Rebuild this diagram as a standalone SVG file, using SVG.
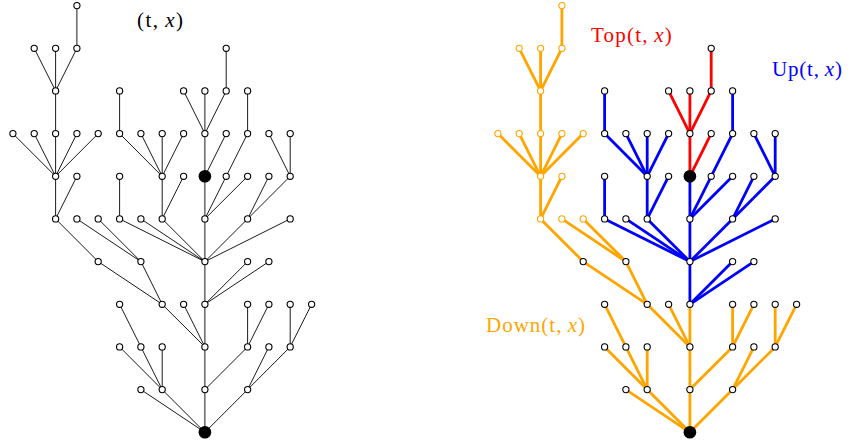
<svg xmlns="http://www.w3.org/2000/svg" width="849" height="445" viewBox="0 0 849 445">
<style>
.e{stroke:#000;stroke-width:0.9;fill:none}
.o{stroke:#FFA500;stroke-width:2.8;fill:none}
.b{stroke:#0000FF;stroke-width:2.8;fill:none}
.r{stroke:#FF0000;stroke-width:2.8;fill:none}
.n{fill:#fff;stroke:#000;stroke-width:1.1}
.no{fill:#fff;stroke:#FFA500;stroke-width:1.1}
.k{fill:#000;stroke:none}
.t{font-family:"Liberation Serif","Times New Roman",serif;font-size:21px}
</style>
<rect width="849" height="445" fill="#fff"/>
<g id="left-connectors">
<line class="e" x1="76.9" y1="5.6" x2="76.9" y2="48.3"/>
<line class="e" x1="34.2" y1="48.3" x2="55.6" y2="90.9"/>
<line class="e" x1="55.6" y1="48.3" x2="55.6" y2="90.9"/>
<line class="e" x1="76.9" y1="48.3" x2="55.6" y2="90.9"/>
<line class="e" x1="226.2" y1="48.3" x2="226.2" y2="90.9"/>
<line class="e" x1="55.6" y1="90.9" x2="55.6" y2="133.6"/>
<line class="e" x1="119.6" y1="90.9" x2="119.6" y2="133.6"/>
<line class="e" x1="183.6" y1="90.9" x2="204.9" y2="133.6"/>
<line class="e" x1="204.9" y1="90.9" x2="204.9" y2="133.6"/>
<line class="e" x1="226.2" y1="90.9" x2="204.9" y2="133.6"/>
<line class="e" x1="247.6" y1="90.9" x2="247.6" y2="133.6"/>
<line class="e" x1="12.9" y1="133.6" x2="55.6" y2="176.3"/>
<line class="e" x1="34.2" y1="133.6" x2="55.6" y2="176.3"/>
<line class="e" x1="55.6" y1="133.6" x2="55.6" y2="176.3"/>
<line class="e" x1="76.9" y1="133.6" x2="55.6" y2="176.3"/>
<line class="e" x1="98.2" y1="133.6" x2="55.6" y2="176.3"/>
<line class="e" x1="119.6" y1="133.6" x2="162.2" y2="176.3"/>
<line class="e" x1="140.9" y1="133.6" x2="162.2" y2="176.3"/>
<line class="e" x1="162.2" y1="133.6" x2="162.2" y2="176.3"/>
<line class="e" x1="183.6" y1="133.6" x2="162.2" y2="176.3"/>
<line class="e" x1="204.9" y1="133.6" x2="204.9" y2="176.3"/>
<line class="e" x1="226.2" y1="133.6" x2="204.9" y2="176.3"/>
<line class="e" x1="247.6" y1="133.6" x2="226.2" y2="176.3"/>
<line class="e" x1="268.9" y1="133.6" x2="290.2" y2="176.3"/>
<line class="e" x1="290.2" y1="133.6" x2="290.2" y2="176.3"/>
<line class="e" x1="55.6" y1="176.3" x2="55.6" y2="218.9"/>
<line class="e" x1="76.9" y1="176.3" x2="55.6" y2="218.9"/>
<line class="e" x1="119.6" y1="176.3" x2="119.6" y2="218.9"/>
<line class="e" x1="162.2" y1="176.3" x2="162.2" y2="218.9"/>
<line class="e" x1="183.6" y1="176.3" x2="162.2" y2="218.9"/>
<line class="e" x1="204.9" y1="176.3" x2="204.9" y2="218.9"/>
<line class="e" x1="226.2" y1="176.3" x2="204.9" y2="218.9"/>
<line class="e" x1="247.6" y1="176.3" x2="204.9" y2="218.9"/>
<line class="e" x1="268.9" y1="176.3" x2="247.6" y2="218.9"/>
<line class="e" x1="290.2" y1="176.3" x2="247.6" y2="218.9"/>
<line class="e" x1="55.6" y1="218.9" x2="98.2" y2="261.6"/>
<line class="e" x1="76.9" y1="218.9" x2="140.9" y2="261.6"/>
<line class="e" x1="98.2" y1="218.9" x2="140.9" y2="261.6"/>
<line class="e" x1="119.6" y1="218.9" x2="204.9" y2="261.6"/>
<line class="e" x1="140.9" y1="218.9" x2="204.9" y2="261.6"/>
<line class="e" x1="162.2" y1="218.9" x2="204.9" y2="261.6"/>
<line class="e" x1="204.9" y1="218.9" x2="204.9" y2="261.6"/>
<line class="e" x1="247.6" y1="218.9" x2="204.9" y2="261.6"/>
<line class="e" x1="290.2" y1="218.9" x2="204.9" y2="261.6"/>
<line class="e" x1="98.2" y1="261.6" x2="162.2" y2="304.3"/>
<line class="e" x1="140.9" y1="261.6" x2="162.2" y2="304.3"/>
<line class="e" x1="204.9" y1="261.6" x2="204.9" y2="304.3"/>
<line class="e" x1="247.6" y1="261.6" x2="204.9" y2="304.3"/>
<line class="e" x1="268.9" y1="261.6" x2="204.9" y2="304.3"/>
<line class="e" x1="119.6" y1="304.3" x2="140.9" y2="346.9"/>
<line class="e" x1="162.2" y1="304.3" x2="204.9" y2="346.9"/>
<line class="e" x1="183.6" y1="304.3" x2="204.9" y2="346.9"/>
<line class="e" x1="204.9" y1="304.3" x2="204.9" y2="346.9"/>
<line class="e" x1="247.6" y1="304.3" x2="247.6" y2="346.9"/>
<line class="e" x1="268.9" y1="304.3" x2="247.6" y2="346.9"/>
<line class="e" x1="290.2" y1="304.3" x2="290.2" y2="346.9"/>
<line class="e" x1="311.6" y1="304.3" x2="290.2" y2="346.9"/>
<line class="e" x1="119.6" y1="346.9" x2="162.2" y2="389.6"/>
<line class="e" x1="140.9" y1="346.9" x2="162.2" y2="389.6"/>
<line class="e" x1="162.2" y1="346.9" x2="162.2" y2="389.6"/>
<line class="e" x1="204.9" y1="346.9" x2="204.9" y2="389.6"/>
<line class="e" x1="247.6" y1="346.9" x2="204.9" y2="389.6"/>
<line class="e" x1="268.9" y1="346.9" x2="247.6" y2="389.6"/>
<line class="e" x1="290.2" y1="346.9" x2="247.6" y2="389.6"/>
<line class="e" x1="140.9" y1="389.6" x2="204.9" y2="432.3"/>
<line class="e" x1="162.2" y1="389.6" x2="204.9" y2="432.3"/>
<line class="e" x1="204.9" y1="389.6" x2="204.9" y2="432.3"/>
<line class="e" x1="247.6" y1="389.6" x2="204.9" y2="432.3"/>
</g>
<g id="left-nodes">
<g id="L3_0"><circle class="n" cx="76.9" cy="5.6" r="3.1"/></g>
<g id="L1_1"><circle class="n" cx="34.2" cy="48.3" r="3.1"/></g>
<g id="L2_1"><circle class="n" cx="55.6" cy="48.3" r="3.1"/></g>
<g id="L3_1"><circle class="n" cx="76.9" cy="48.3" r="3.1"/></g>
<g id="L10_1"><circle class="n" cx="226.2" cy="48.3" r="3.1"/></g>
<g id="L2_2"><circle class="n" cx="55.6" cy="90.9" r="3.1"/></g>
<g id="L5_2"><circle class="n" cx="119.6" cy="90.9" r="3.1"/></g>
<g id="L8_2"><circle class="n" cx="183.6" cy="90.9" r="3.1"/></g>
<g id="L9_2"><circle class="n" cx="204.9" cy="90.9" r="3.1"/></g>
<g id="L10_2"><circle class="n" cx="226.2" cy="90.9" r="3.1"/></g>
<g id="L11_2"><circle class="n" cx="247.6" cy="90.9" r="3.1"/></g>
<g id="L0_3"><circle class="n" cx="12.9" cy="133.6" r="3.1"/></g>
<g id="L1_3"><circle class="n" cx="34.2" cy="133.6" r="3.1"/></g>
<g id="L2_3"><circle class="n" cx="55.6" cy="133.6" r="3.1"/></g>
<g id="L3_3"><circle class="n" cx="76.9" cy="133.6" r="3.1"/></g>
<g id="L4_3"><circle class="n" cx="98.2" cy="133.6" r="3.1"/></g>
<g id="L5_3"><circle class="n" cx="119.6" cy="133.6" r="3.1"/></g>
<g id="L6_3"><circle class="n" cx="140.9" cy="133.6" r="3.1"/></g>
<g id="L7_3"><circle class="n" cx="162.2" cy="133.6" r="3.1"/></g>
<g id="L8_3"><circle class="n" cx="183.6" cy="133.6" r="3.1"/></g>
<g id="L9_3"><circle class="n" cx="204.9" cy="133.6" r="3.1"/></g>
<g id="L10_3"><circle class="n" cx="226.2" cy="133.6" r="3.1"/></g>
<g id="L11_3"><circle class="n" cx="247.6" cy="133.6" r="3.1"/></g>
<g id="L12_3"><circle class="n" cx="268.9" cy="133.6" r="3.1"/></g>
<g id="L13_3"><circle class="n" cx="290.2" cy="133.6" r="3.1"/></g>
<g id="L2_4"><circle class="n" cx="55.6" cy="176.3" r="3.1"/></g>
<g id="L3_4"><circle class="n" cx="76.9" cy="176.3" r="3.1"/></g>
<g id="L5_4"><circle class="n" cx="119.6" cy="176.3" r="3.1"/></g>
<g id="L7_4"><circle class="n" cx="162.2" cy="176.3" r="3.1"/></g>
<g id="L8_4"><circle class="n" cx="183.6" cy="176.3" r="3.1"/></g>
<g id="L9_4"><circle class="k" cx="204.9" cy="176.3" r="6.3"/></g>
<g id="L10_4"><circle class="n" cx="226.2" cy="176.3" r="3.1"/></g>
<g id="L11_4"><circle class="n" cx="247.6" cy="176.3" r="3.1"/></g>
<g id="L12_4"><circle class="n" cx="268.9" cy="176.3" r="3.1"/></g>
<g id="L13_4"><circle class="n" cx="290.2" cy="176.3" r="3.1"/></g>
<g id="L2_5"><circle class="n" cx="55.6" cy="218.9" r="3.1"/></g>
<g id="L3_5"><circle class="n" cx="76.9" cy="218.9" r="3.1"/></g>
<g id="L4_5"><circle class="n" cx="98.2" cy="218.9" r="3.1"/></g>
<g id="L5_5"><circle class="n" cx="119.6" cy="218.9" r="3.1"/></g>
<g id="L6_5"><circle class="n" cx="140.9" cy="218.9" r="3.1"/></g>
<g id="L7_5"><circle class="n" cx="162.2" cy="218.9" r="3.1"/></g>
<g id="L9_5"><circle class="n" cx="204.9" cy="218.9" r="3.1"/></g>
<g id="L11_5"><circle class="n" cx="247.6" cy="218.9" r="3.1"/></g>
<g id="L13_5"><circle class="n" cx="290.2" cy="218.9" r="3.1"/></g>
<g id="L4_6"><circle class="n" cx="98.2" cy="261.6" r="3.1"/></g>
<g id="L6_6"><circle class="n" cx="140.9" cy="261.6" r="3.1"/></g>
<g id="L9_6"><circle class="n" cx="204.9" cy="261.6" r="3.1"/></g>
<g id="L11_6"><circle class="n" cx="247.6" cy="261.6" r="3.1"/></g>
<g id="L12_6"><circle class="n" cx="268.9" cy="261.6" r="3.1"/></g>
<g id="L5_7"><circle class="n" cx="119.6" cy="304.3" r="3.1"/></g>
<g id="L7_7"><circle class="n" cx="162.2" cy="304.3" r="3.1"/></g>
<g id="L8_7"><circle class="n" cx="183.6" cy="304.3" r="3.1"/></g>
<g id="L9_7"><circle class="n" cx="204.9" cy="304.3" r="3.1"/></g>
<g id="L11_7"><circle class="n" cx="247.6" cy="304.3" r="3.1"/></g>
<g id="L12_7"><circle class="n" cx="268.9" cy="304.3" r="3.1"/></g>
<g id="L13_7"><circle class="n" cx="290.2" cy="304.3" r="3.1"/></g>
<g id="L14_7"><circle class="n" cx="311.6" cy="304.3" r="3.1"/></g>
<g id="L5_8"><circle class="n" cx="119.6" cy="346.9" r="3.1"/></g>
<g id="L6_8"><circle class="n" cx="140.9" cy="346.9" r="3.1"/></g>
<g id="L7_8"><circle class="n" cx="162.2" cy="346.9" r="3.1"/></g>
<g id="L9_8"><circle class="n" cx="204.9" cy="346.9" r="3.1"/></g>
<g id="L11_8"><circle class="n" cx="247.6" cy="346.9" r="3.1"/></g>
<g id="L12_8"><circle class="n" cx="268.9" cy="346.9" r="3.1"/></g>
<g id="L13_8"><circle class="n" cx="290.2" cy="346.9" r="3.1"/></g>
<g id="L6_9"><circle class="n" cx="140.9" cy="389.6" r="3.1"/></g>
<g id="L7_9"><circle class="n" cx="162.2" cy="389.6" r="3.1"/></g>
<g id="L9_9"><circle class="n" cx="204.9" cy="389.6" r="3.1"/></g>
<g id="L11_9"><circle class="n" cx="247.6" cy="389.6" r="3.1"/></g>
<g id="L9_10"><circle class="k" cx="204.9" cy="432.3" r="6.3"/></g>
</g>
<g id="right-connectors" transform="translate(485,0)">
<line class="o" x1="76.9" y1="5.6" x2="76.9" y2="48.3"/>
<line class="o" x1="34.2" y1="48.3" x2="55.6" y2="90.9"/>
<line class="o" x1="55.6" y1="48.3" x2="55.6" y2="90.9"/>
<line class="o" x1="76.9" y1="48.3" x2="55.6" y2="90.9"/>
<line class="o" x1="55.6" y1="90.9" x2="55.6" y2="133.6"/>
<line class="o" x1="12.9" y1="133.6" x2="55.6" y2="176.3"/>
<line class="o" x1="34.2" y1="133.6" x2="55.6" y2="176.3"/>
<line class="o" x1="55.6" y1="133.6" x2="55.6" y2="176.3"/>
<line class="o" x1="76.9" y1="133.6" x2="55.6" y2="176.3"/>
<line class="o" x1="98.2" y1="133.6" x2="55.6" y2="176.3"/>
<line class="o" x1="55.6" y1="176.3" x2="55.6" y2="218.9"/>
<line class="o" x1="76.9" y1="176.3" x2="55.6" y2="218.9"/>
<line class="o" x1="55.6" y1="218.9" x2="98.2" y2="261.6"/>
<line class="o" x1="76.9" y1="218.9" x2="140.9" y2="261.6"/>
<line class="o" x1="98.2" y1="218.9" x2="140.9" y2="261.6"/>
<line class="o" x1="98.2" y1="261.6" x2="162.2" y2="304.3"/>
<line class="o" x1="140.9" y1="261.6" x2="162.2" y2="304.3"/>
<line class="o" x1="119.6" y1="304.3" x2="140.9" y2="346.9"/>
<line class="o" x1="162.2" y1="304.3" x2="204.9" y2="346.9"/>
<line class="o" x1="183.6" y1="304.3" x2="204.9" y2="346.9"/>
<line class="o" x1="204.9" y1="304.3" x2="204.9" y2="346.9"/>
<line class="o" x1="247.6" y1="304.3" x2="247.6" y2="346.9"/>
<line class="o" x1="268.9" y1="304.3" x2="247.6" y2="346.9"/>
<line class="o" x1="290.2" y1="304.3" x2="290.2" y2="346.9"/>
<line class="o" x1="311.6" y1="304.3" x2="290.2" y2="346.9"/>
<line class="o" x1="119.6" y1="346.9" x2="162.2" y2="389.6"/>
<line class="o" x1="140.9" y1="346.9" x2="162.2" y2="389.6"/>
<line class="o" x1="162.2" y1="346.9" x2="162.2" y2="389.6"/>
<line class="o" x1="204.9" y1="346.9" x2="204.9" y2="389.6"/>
<line class="o" x1="247.6" y1="346.9" x2="204.9" y2="389.6"/>
<line class="o" x1="268.9" y1="346.9" x2="247.6" y2="389.6"/>
<line class="o" x1="290.2" y1="346.9" x2="247.6" y2="389.6"/>
<line class="o" x1="140.9" y1="389.6" x2="204.9" y2="432.3"/>
<line class="o" x1="162.2" y1="389.6" x2="204.9" y2="432.3"/>
<line class="o" x1="204.9" y1="389.6" x2="204.9" y2="432.3"/>
<line class="o" x1="247.6" y1="389.6" x2="204.9" y2="432.3"/>
<line class="b" x1="119.6" y1="90.9" x2="119.6" y2="133.6"/>
<line class="b" x1="247.6" y1="90.9" x2="247.6" y2="133.6"/>
<line class="b" x1="119.6" y1="133.6" x2="162.2" y2="176.3"/>
<line class="b" x1="140.9" y1="133.6" x2="162.2" y2="176.3"/>
<line class="b" x1="162.2" y1="133.6" x2="162.2" y2="176.3"/>
<line class="b" x1="183.6" y1="133.6" x2="162.2" y2="176.3"/>
<line class="b" x1="247.6" y1="133.6" x2="226.2" y2="176.3"/>
<line class="b" x1="268.9" y1="133.6" x2="290.2" y2="176.3"/>
<line class="b" x1="290.2" y1="133.6" x2="290.2" y2="176.3"/>
<line class="b" x1="119.6" y1="176.3" x2="119.6" y2="218.9"/>
<line class="b" x1="162.2" y1="176.3" x2="162.2" y2="218.9"/>
<line class="b" x1="183.6" y1="176.3" x2="162.2" y2="218.9"/>
<line class="b" x1="204.9" y1="176.3" x2="204.9" y2="218.9"/>
<line class="b" x1="226.2" y1="176.3" x2="204.9" y2="218.9"/>
<line class="b" x1="247.6" y1="176.3" x2="204.9" y2="218.9"/>
<line class="b" x1="268.9" y1="176.3" x2="247.6" y2="218.9"/>
<line class="b" x1="290.2" y1="176.3" x2="247.6" y2="218.9"/>
<line class="b" x1="119.6" y1="218.9" x2="204.9" y2="261.6"/>
<line class="b" x1="140.9" y1="218.9" x2="204.9" y2="261.6"/>
<line class="b" x1="162.2" y1="218.9" x2="204.9" y2="261.6"/>
<line class="b" x1="204.9" y1="218.9" x2="204.9" y2="261.6"/>
<line class="b" x1="247.6" y1="218.9" x2="204.9" y2="261.6"/>
<line class="b" x1="290.2" y1="218.9" x2="204.9" y2="261.6"/>
<line class="b" x1="204.9" y1="261.6" x2="204.9" y2="304.3"/>
<line class="b" x1="247.6" y1="261.6" x2="204.9" y2="304.3"/>
<line class="b" x1="268.9" y1="261.6" x2="204.9" y2="304.3"/>
<line class="r" x1="226.2" y1="48.3" x2="226.2" y2="90.9"/>
<line class="r" x1="183.6" y1="90.9" x2="204.9" y2="133.6"/>
<line class="r" x1="204.9" y1="90.9" x2="204.9" y2="133.6"/>
<line class="r" x1="226.2" y1="90.9" x2="204.9" y2="133.6"/>
<line class="r" x1="204.9" y1="133.6" x2="204.9" y2="176.3"/>
<line class="r" x1="226.2" y1="133.6" x2="204.9" y2="176.3"/>
</g>
<g id="right-nodes" transform="translate(485,0)">
<g id="R3_0"><circle class="no" cx="76.9" cy="5.6" r="3.1"/></g>
<g id="R1_1"><circle class="no" cx="34.2" cy="48.3" r="3.1"/></g>
<g id="R2_1"><circle class="no" cx="55.6" cy="48.3" r="3.1"/></g>
<g id="R3_1"><circle class="no" cx="76.9" cy="48.3" r="3.1"/></g>
<g id="R10_1"><circle class="n" cx="226.2" cy="48.3" r="3.1"/></g>
<g id="R2_2"><circle class="no" cx="55.6" cy="90.9" r="3.1"/></g>
<g id="R5_2"><circle class="n" cx="119.6" cy="90.9" r="3.1"/></g>
<g id="R8_2"><circle class="n" cx="183.6" cy="90.9" r="3.1"/></g>
<g id="R9_2"><circle class="n" cx="204.9" cy="90.9" r="3.1"/></g>
<g id="R10_2"><circle class="n" cx="226.2" cy="90.9" r="3.1"/></g>
<g id="R11_2"><circle class="n" cx="247.6" cy="90.9" r="3.1"/></g>
<g id="R0_3"><circle class="no" cx="12.9" cy="133.6" r="3.1"/></g>
<g id="R1_3"><circle class="no" cx="34.2" cy="133.6" r="3.1"/></g>
<g id="R2_3"><circle class="no" cx="55.6" cy="133.6" r="3.1"/></g>
<g id="R3_3"><circle class="no" cx="76.9" cy="133.6" r="3.1"/></g>
<g id="R4_3"><circle class="no" cx="98.2" cy="133.6" r="3.1"/></g>
<g id="R5_3"><circle class="n" cx="119.6" cy="133.6" r="3.1"/></g>
<g id="R6_3"><circle class="n" cx="140.9" cy="133.6" r="3.1"/></g>
<g id="R7_3"><circle class="n" cx="162.2" cy="133.6" r="3.1"/></g>
<g id="R8_3"><circle class="n" cx="183.6" cy="133.6" r="3.1"/></g>
<g id="R9_3"><circle class="n" cx="204.9" cy="133.6" r="3.1"/></g>
<g id="R10_3"><circle class="n" cx="226.2" cy="133.6" r="3.1"/></g>
<g id="R11_3"><circle class="n" cx="247.6" cy="133.6" r="3.1"/></g>
<g id="R12_3"><circle class="n" cx="268.9" cy="133.6" r="3.1"/></g>
<g id="R13_3"><circle class="n" cx="290.2" cy="133.6" r="3.1"/></g>
<g id="R2_4"><circle class="no" cx="55.6" cy="176.3" r="3.1"/></g>
<g id="R3_4"><circle class="no" cx="76.9" cy="176.3" r="3.1"/></g>
<g id="R5_4"><circle class="n" cx="119.6" cy="176.3" r="3.1"/></g>
<g id="R7_4"><circle class="n" cx="162.2" cy="176.3" r="3.1"/></g>
<g id="R8_4"><circle class="n" cx="183.6" cy="176.3" r="3.1"/></g>
<g id="R9_4"><circle class="k" cx="204.9" cy="176.3" r="6.3"/></g>
<g id="R10_4"><circle class="n" cx="226.2" cy="176.3" r="3.1"/></g>
<g id="R11_4"><circle class="n" cx="247.6" cy="176.3" r="3.1"/></g>
<g id="R12_4"><circle class="n" cx="268.9" cy="176.3" r="3.1"/></g>
<g id="R13_4"><circle class="n" cx="290.2" cy="176.3" r="3.1"/></g>
<g id="R2_5"><circle class="no" cx="55.6" cy="218.9" r="3.1"/></g>
<g id="R3_5"><circle class="no" cx="76.9" cy="218.9" r="3.1"/></g>
<g id="R4_5"><circle class="no" cx="98.2" cy="218.9" r="3.1"/></g>
<g id="R5_5"><circle class="n" cx="119.6" cy="218.9" r="3.1"/></g>
<g id="R6_5"><circle class="n" cx="140.9" cy="218.9" r="3.1"/></g>
<g id="R7_5"><circle class="n" cx="162.2" cy="218.9" r="3.1"/></g>
<g id="R9_5"><circle class="n" cx="204.9" cy="218.9" r="3.1"/></g>
<g id="R11_5"><circle class="n" cx="247.6" cy="218.9" r="3.1"/></g>
<g id="R13_5"><circle class="n" cx="290.2" cy="218.9" r="3.1"/></g>
<g id="R4_6"><circle class="n" cx="98.2" cy="261.6" r="3.1"/></g>
<g id="R6_6"><circle class="n" cx="140.9" cy="261.6" r="3.1"/></g>
<g id="R9_6"><circle class="n" cx="204.9" cy="261.6" r="3.1"/></g>
<g id="R11_6"><circle class="n" cx="247.6" cy="261.6" r="3.1"/></g>
<g id="R12_6"><circle class="n" cx="268.9" cy="261.6" r="3.1"/></g>
<g id="R5_7"><circle class="n" cx="119.6" cy="304.3" r="3.1"/></g>
<g id="R7_7"><circle class="n" cx="162.2" cy="304.3" r="3.1"/></g>
<g id="R8_7"><circle class="n" cx="183.6" cy="304.3" r="3.1"/></g>
<g id="R9_7"><circle class="n" cx="204.9" cy="304.3" r="3.1"/></g>
<g id="R11_7"><circle class="n" cx="247.6" cy="304.3" r="3.1"/></g>
<g id="R12_7"><circle class="n" cx="268.9" cy="304.3" r="3.1"/></g>
<g id="R13_7"><circle class="n" cx="290.2" cy="304.3" r="3.1"/></g>
<g id="R14_7"><circle class="n" cx="311.6" cy="304.3" r="3.1"/></g>
<g id="R5_8"><circle class="n" cx="119.6" cy="346.9" r="3.1"/></g>
<g id="R6_8"><circle class="n" cx="140.9" cy="346.9" r="3.1"/></g>
<g id="R7_8"><circle class="n" cx="162.2" cy="346.9" r="3.1"/></g>
<g id="R9_8"><circle class="n" cx="204.9" cy="346.9" r="3.1"/></g>
<g id="R11_8"><circle class="n" cx="247.6" cy="346.9" r="3.1"/></g>
<g id="R12_8"><circle class="n" cx="268.9" cy="346.9" r="3.1"/></g>
<g id="R13_8"><circle class="n" cx="290.2" cy="346.9" r="3.1"/></g>
<g id="R6_9"><circle class="n" cx="140.9" cy="389.6" r="3.1"/></g>
<g id="R7_9"><circle class="n" cx="162.2" cy="389.6" r="3.1"/></g>
<g id="R9_9"><circle class="n" cx="204.9" cy="389.6" r="3.1"/></g>
<g id="R11_9"><circle class="n" cx="247.6" cy="389.6" r="3.1"/></g>
<g id="R9_10"><circle class="k" cx="204.9" cy="432.3" r="6.3"/></g>
</g>
<g id="labels">
<text class="t" x="137" y="27" textLength="46" fill="#000">(t,&#8201;<tspan font-style="italic">x</tspan>)</text>
<text class="t" x="591" y="41.5" textLength="80.7" fill="#FF0000">Top(t,&#8201;<tspan font-style="italic">x</tspan>)</text>
<text class="t" x="772" y="75.5" textLength="70" fill="#0000FF">Up(t,&#8201;<tspan font-style="italic">x</tspan>)</text>
<text class="t" x="486" y="332.3" textLength="99" fill="#FFA500">Down(t,&#8201;<tspan font-style="italic">x</tspan>)</text>
</g>
</svg>
